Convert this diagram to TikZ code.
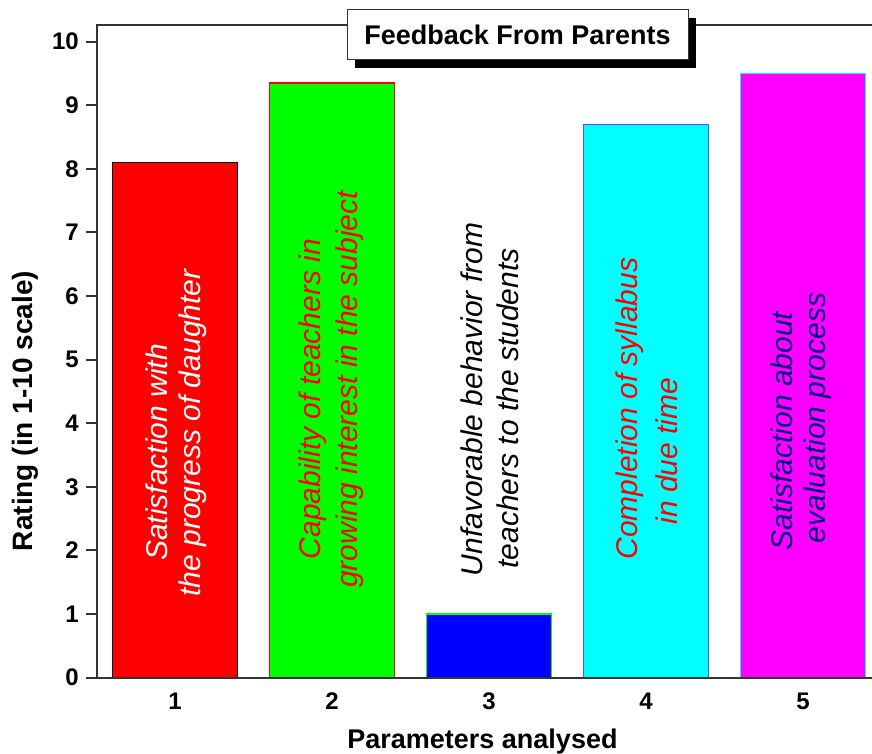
\documentclass[tikz,border=0pt]{standalone}
\usepackage{fontspec}
\setmainfont{Liberation Sans}
\usetikzlibrary{shadows}
\definecolor{navy}{RGB}{0,0,128}
\definecolor{axisgray}{gray}{0.2}
\definecolor{barblue}{RGB}{80,80,255}
\definecolor{barcyan}{RGB}{0,255,255}
\definecolor{barmagenta}{RGB}{255,0,255}

\begin{document}
\begin{tikzpicture}[x=1pt,y=1pt]
	\tikzset{
		barNode/.style={draw, line width=1.5pt, minimum width=125, inner sep=0, outer sep=0, anchor=south},
		barText/.style={rotate=90, font=\fontsize{30}{36}\selectfont\itshape},
		tickLabel/.style={font=\fontsize{24}{28}\selectfont\bfseries, inner sep=0}
	}
	\def\yu{63.58}
	\useasboundingbox (-97,-75.5) rectangle (775,677.5);

	% Bars, one per parameter
	\foreach \i/\h/\fc/\dc in {1/8.1/red/black, 2/9.35/green/red, 3/1.0/blue/green, 4/8.7/barcyan/barblue, 5/9.5/barmagenta/barcyan}
		\node (bar\i) [barNode, fill=\fc, draw=\dc, minimum height=\h*\yu] at ({78+(\i-1)*157},0) {};

	% Texts in the bars, line by line
	\node (txt1a) [barText, text=white] at (60,225) {Satisfaction with};
	\node (txt1b) [barText, text=white] at (96,244.5) {the progress of daughter};
	\node (txt2a) [barText, text=red] at (216,278.5) {Capability of teachers in};
	\node (txt2b) [barText, text=red] at (253,288) {growing interest in the subject};
	\node (txt3a) [barText, text=black] at (375,278) {Unfavorable behavior from};
	\node (txt3b) [barText, text=black] at (411,269) {teachers to the students};
	\node (txt4a) [barText, text=red] at (533,269) {Completion of syllabus};
	\node (txt4b) [barText, text=red] at (570,226.5) {in due time};
	\node (txt5a) [barText, text=navy] at (685,246.5) {Satisfaction about};
	\node (txt5b) [barText, text=navy] at (721,259.5) {evaluation process};

	% Frame and ticks
	\draw[axisgray, line width=2pt] (775,0) -- (0,0) -- (0,652.5) -- (775,652.5);
	\foreach \v in {0,...,10}{
		\draw[axisgray, line width=2pt] (-11,\v*\yu) -- (0,\v*\yu);
		\node (ytick\v) [tickLabel, anchor=east] at (-18,\v*\yu) {\v};
	}
	\foreach \i in {1,...,5}
		\node (xtick\i) [tickLabel] at ({78+(\i-1)*157},-24) {\i};

	% Axis titles
	\node (ylabel) [rotate=90, anchor=base, font=\fontsize{28}{32}\selectfont\bfseries] at (-64,266.5) {Rating (in 1-10 scale)};
	\node (xlabel) [anchor=base, font=\fontsize{27}{32}\selectfont\bfseries] at (385.5,-70.5) {Parameters analysed};

	% Title box with its shadow
	\node (title) [draw=axisgray, fill=white, line width=1pt, minimum width=341, minimum height=50, font=\fontsize{27}{32}\selectfont\bfseries,
		drop shadow={shadow xshift=8pt, shadow yshift=-8pt, fill=black, opacity=1}] at (420.5,642.5) {Feedback From Parents};
\end{tikzpicture}
\end{document}
